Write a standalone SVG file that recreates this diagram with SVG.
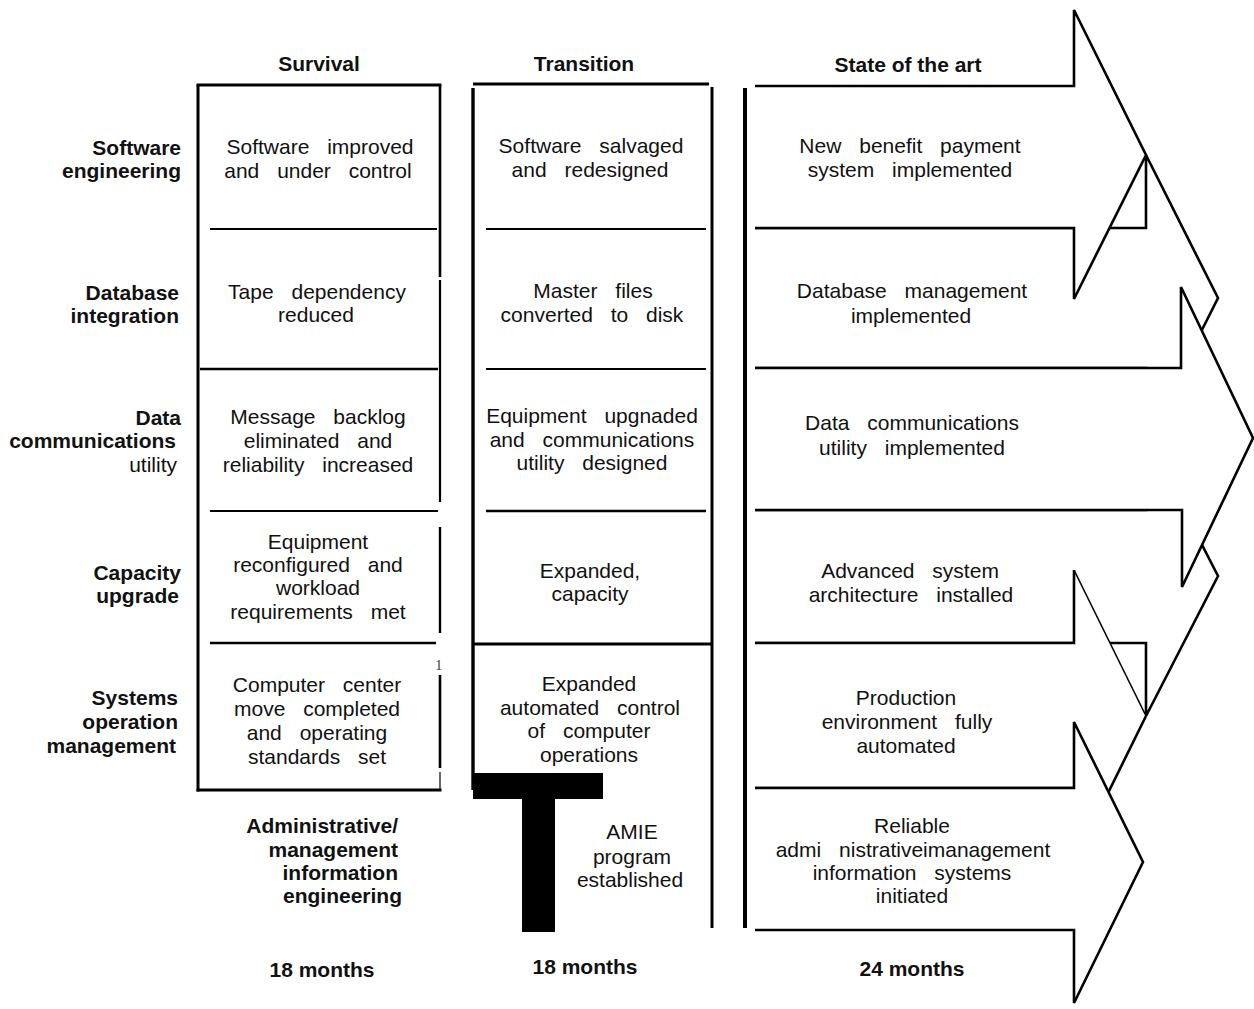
<svg xmlns="http://www.w3.org/2000/svg" width="1254" height="1009" viewBox="0 0 1254 1009">
<style>
  .t { font-family: "Liberation Sans", Arial, sans-serif; font-size: 21px; fill: #111; text-anchor: middle; word-spacing: 12px; }
  .b { font-family: "Liberation Sans", Arial, sans-serif; font-size: 21px; font-weight: bold; fill: #111; }
  .bc { text-anchor: middle; }
  .br { text-anchor: end; }
  .ln { stroke: #000; fill: none; stroke-linecap: square; }
  .af { fill: #fff; stroke: none; }
  .as { fill: none; stroke: #000; stroke-width: 2.6; stroke-linejoin: miter; }
</style>
<rect width="1254" height="1009" fill="#fff"/>

<!-- Big arrows (State of the art) -->
<g id="connectors">
  <g id="arrow-database">
    <path class="af" d="M755,228 H1146 V155 L1218,298 L1146,441 V368 H755 Z"/>
    <path class="as" d="M755,228 H1146 V155 L1218,298 L1146,441 V368 H755"/>
  </g>
  <g id="arrow-capacity">
    <path class="af" d="M755,510 H1146 V436 L1218,576 L1146,716 V643 H755 Z"/>
    <path class="as" d="M755,510 H1146 V436 L1218,576 L1146,716 V643 H755"/>
  </g>
  <g id="arrow-software">
    <path class="af" d="M755,86 H1074 V10 L1146,155 L1074,299 V228 H755 Z"/>
    <path class="as" d="M755,86 H1074 V10 L1146,155 L1074,299 V228 H755"/>
  </g>
  <g id="arrow-datacomm">
    <path class="af" d="M755,368 H1181 V287 L1253,438 L1182,587 V510 H755 Z"/>
    <path class="as" d="M755,368 H1181 V287 L1253,438 L1182,587 V510 H755"/>
  </g>
  <g id="arrow-systems">
    <path class="af" d="M755,643 H1074 V570 L1146,716 L1074,862 V788 H755 Z"/>
    <path class="as" d="M755,643 H1074 V570"/>
    <path fill="none" stroke="#000" stroke-width="1.6" d="M1074,570 L1146,716"/>
    <path class="as" d="M1146,716 L1074,862 V788 H755"/>
  </g>
  <g id="arrow-admin">
    <path class="af" d="M755,788 H1074 V722 L1143,862 L1074,1003 V930 H755 Z"/>
    <path class="as" d="M755,788 H1074 V722 L1143,862 L1074,1003 V930 H755"/>
  </g>
</g>

<!-- Column headers -->
<g id="headers">
  <text class="b bc" x="319" y="71">Survival</text>
  <text class="b bc" x="584" y="71">Transition</text>
  <text class="b bc" x="908" y="72">State of the art</text>
</g>

<!-- Survival column frame -->
<g id="survival-frame">
  <line class="ln" x1="198" y1="85" x2="440" y2="85" stroke-width="2.8"/>
  <line class="ln" x1="198" y1="86" x2="198" y2="790" stroke-width="3"/>
  <line class="ln" x1="198" y1="790" x2="440" y2="790" stroke-width="3"/>
  <line x1="440" y1="85" x2="440" y2="277" stroke="#000" stroke-width="2.6"/>
  <line x1="440" y1="280" x2="440" y2="502" stroke="#000" stroke-width="2.2"/>
  <line x1="440" y1="527" x2="440" y2="633" stroke="#000" stroke-width="2.4"/>
  <line x1="440" y1="675" x2="440" y2="768" stroke="#000" stroke-width="2.6"/>
  <line x1="440" y1="772" x2="440" y2="791" stroke="#000" stroke-width="1.2"/>
  <line x1="210" y1="229" x2="437" y2="229" stroke="#000" stroke-width="2"/>
  <line x1="200" y1="369" x2="438" y2="369" stroke="#000" stroke-width="2.6"/>
  <line x1="210" y1="511" x2="438" y2="511" stroke="#000" stroke-width="2.2"/>
  <line x1="210" y1="643" x2="436" y2="643" stroke="#000" stroke-width="2.4"/>
  <text x="435" y="670" font-family="Liberation Serif, serif" font-size="15" fill="#444">1</text>
</g>

<!-- Transition column frame -->
<g id="transition-frame">
  <line x1="473" y1="84" x2="709" y2="84" stroke="#000" stroke-width="3"/>
  <line x1="473" y1="88" x2="473" y2="790" stroke="#000" stroke-width="3.4"/>
  <line x1="712" y1="87" x2="712" y2="928" stroke="#000" stroke-width="3"/>
  <line x1="486" y1="229" x2="706" y2="229" stroke="#000" stroke-width="2.2"/>
  <line x1="486" y1="369" x2="706" y2="369" stroke="#000" stroke-width="2.2"/>
  <line x1="486" y1="511" x2="706" y2="511" stroke="#000" stroke-width="2.4"/>
  <line x1="473" y1="644" x2="712" y2="644" stroke="#000" stroke-width="3.2"/>
</g>

<!-- State of the art left rule -->
<g id="state-frame">
  <line x1="745" y1="88" x2="745" y2="928" stroke="#000" stroke-width="4"/>
</g>

<!-- Row labels -->
<g id="label-software">
  <text class="b br" x="181" y="155">Software</text>
  <text class="b br" x="181" y="178">engineering</text>
</g>
<g id="label-database">
  <text class="b br" x="179" y="300">Database</text>
  <text class="b br" x="179" y="323">integration</text>
</g>
<g id="label-datacomm">
  <text class="b br" x="181" y="425">Data</text>
  <text class="b br" x="176" y="448">communications</text>
  <text class="t" x="177" y="472" style="text-anchor:end">utility</text>
</g>
<g id="label-capacity">
  <text class="b br" x="181" y="580">Capacity</text>
  <text class="b br" x="179" y="603">upgrade</text>
</g>
<g id="label-systems">
  <text class="b br" x="178" y="705">Systems</text>
  <text class="b br" x="178" y="729">operation</text>
  <text class="b br" x="176" y="753">management</text>
</g>
<g id="label-admin">
  <text class="b br" x="398" y="833">Administrative/</text>
  <text class="b br" x="398" y="857">management</text>
  <text class="b br" x="398" y="880">information</text>
  <text class="b br" x="402" y="903">engineering</text>
</g>

<!-- Survival cells -->
<g id="survival-software">
  <text class="t" x="320" y="154">Software improved</text>
  <text class="t" x="318" y="178">and under control</text>
</g>
<g id="survival-database">
  <text class="t" x="317" y="299">Tape dependency</text>
  <text class="t" x="316" y="322">reduced</text>
</g>
<g id="survival-datacomm">
  <text class="t" x="318" y="424">Message backlog</text>
  <text class="t" x="318" y="448">eliminated and</text>
  <text class="t" x="318" y="472">reliability increased</text>
</g>
<g id="survival-capacity">
  <text class="t" x="318" y="549">Equipment</text>
  <text class="t" x="318" y="572">reconfigured and</text>
  <text class="t" x="318" y="595">workload</text>
  <text class="t" x="318" y="619">requirements met</text>
</g>
<g id="survival-systems">
  <text class="t" x="317" y="692">Computer center</text>
  <text class="t" x="317" y="716">move completed</text>
  <text class="t" x="317" y="740">and operating</text>
  <text class="t" x="317" y="764">standards set</text>
</g>

<!-- Transition cells -->
<g id="transition-software">
  <text class="t" x="591" y="153">Software salvaged</text>
  <text class="t" x="590" y="177">and redesigned</text>
</g>
<g id="transition-database">
  <text class="t" x="593" y="298">Master files</text>
  <text class="t" x="592" y="322">converted to disk</text>
</g>
<g id="transition-datacomm">
  <text class="t" x="592" y="423">Equipment upgnaded</text>
  <text class="t" x="592" y="447">and communications</text>
  <text class="t" x="592" y="470">utility designed</text>
</g>
<g id="transition-capacity">
  <text class="t" x="590" y="578">Expanded,</text>
  <text class="t" x="590" y="601">capacity</text>
</g>
<g id="transition-systems">
  <text class="t" x="589" y="691">Expanded</text>
  <text class="t" x="590" y="715">automated control</text>
  <text class="t" x="589" y="738">of computer</text>
  <text class="t" x="589" y="762">operations</text>
</g>
<g id="transition-amie">
  <rect x="473" y="773" width="130" height="26" fill="#000"/>
  <rect x="522" y="798" width="33" height="134" fill="#000"/>
  <text class="t" x="632" y="839">AMIE</text>
  <text class="t" x="632" y="864">program</text>
  <text class="t" x="630" y="887">established</text>
</g>

<!-- State of the art cells -->
<g id="state-software">
  <text class="t" x="910" y="153">New benefit payment</text>
  <text class="t" x="910" y="177">system implemented</text>
</g>
<g id="state-database">
  <text class="t" x="912" y="298">Database management</text>
  <text class="t" x="911" y="323">implemented</text>
</g>
<g id="state-datacomm">
  <text class="t" x="912" y="430">Data communications</text>
  <text class="t" x="912" y="455">utility implemented</text>
</g>
<g id="state-capacity">
  <text class="t" x="910" y="578">Advanced system</text>
  <text class="t" x="911" y="602">architecture installed</text>
</g>
<g id="state-systems">
  <text class="t" x="906" y="705">Production</text>
  <text class="t" x="907" y="729">environment fully</text>
  <text class="t" x="906" y="753">automated</text>
</g>
<g id="state-admin">
  <text class="t" x="912" y="833">Reliable</text>
  <text class="t" x="913" y="857">admi nistrativeimanagement</text>
  <text class="t" x="912" y="880">information systems</text>
  <text class="t" x="912" y="903">initiated</text>
</g>

<!-- Durations -->
<g id="durations">
  <text class="b bc" x="322" y="977">18 months</text>
  <text class="b bc" x="585" y="974">18 months</text>
  <text class="b bc" x="912" y="976">24 months</text>
</g>
</svg>
